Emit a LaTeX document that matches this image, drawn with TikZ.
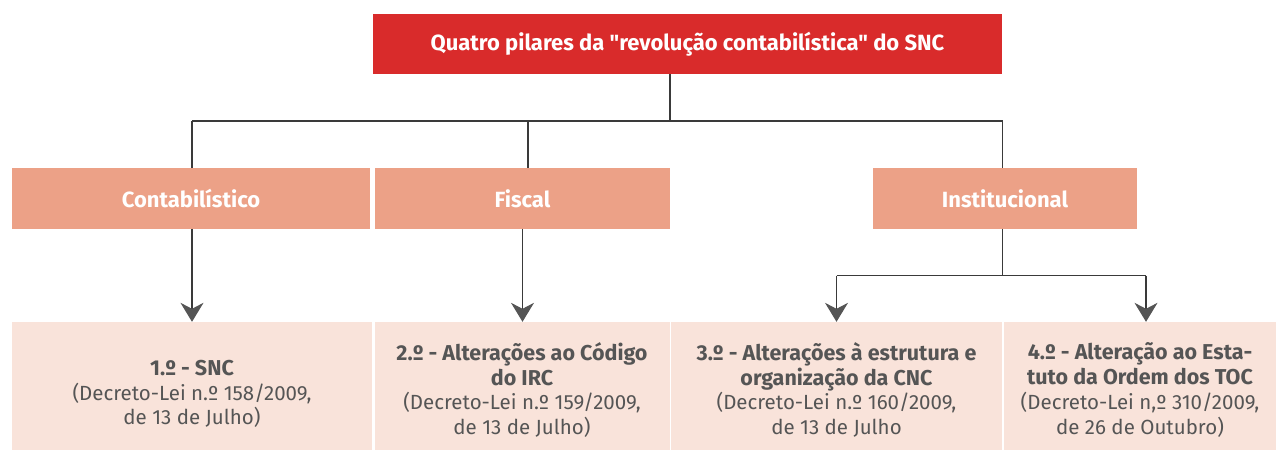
\documentclass[tikz,border=0pt]{standalone}
\usepackage{fontspec}
\setmainfont{Fira Sans}[Ligatures=TeXOff]
\usetikzlibrary{arrows.meta}
\definecolor{titlered}{HTML}{D92B2B}
\definecolor{salmon}{HTML}{ECA187}
\definecolor{pale}{HTML}{F9E3DA}
\definecolor{linegray}{HTML}{3A3A3A}
\definecolor{tipgray}{HTML}{555555}
\definecolor{txtgray}{HTML}{555555}
\tikzset{
  titlebox/.style={fill=titlered, text=white, inner sep=0pt, font=\fontsize{22}{26}\selectfont\bfseries},
  pillar/.style={fill=salmon, text=white, inner sep=0pt, minimum height=60.7pt, font=\fontsize{22}{26}\selectfont\bfseries},
  leaf/.style={fill=pale, inner sep=0pt, minimum height=128pt},
  leaftext/.style={text=txtgray, align=center, inner sep=0pt, font=\fontsize{20.5}{24.8}\selectfont},
  conn/.style={draw=linegray, line width=1.1pt},
  arr/.style={conn, -{Stealth[length=19pt,width=23pt,inset=6pt,color=tipgray]}},
}
\newcommand{\bl}[1]{{\fontsize{21.5}{24.8}\selectfont\bfseries #1}}
\begin{document}
\begin{tikzpicture}[x=1pt,y=-1pt]
\useasboundingbox (0,0) rectangle (1276,451);
% boxes
\node[titlebox, minimum width=629pt, minimum height=60pt] (title) at (687.5,44) {Quatro pilares da "revolução contabilística" do SNC};
\node[pillar, minimum width=358pt] (cont) at (191,198.3) {Contabilístico};
\node[pillar, minimum width=295pt] (fisc) at (522.5,198.3) {Fiscal};
\node[pillar, minimum width=264pt] (inst) at (1005,198.3) {Institucional};
\node[leaf, minimum width=360pt] (l1) at (192,386) {};
\node[leaf, minimum width=295pt] (l2) at (522,386) {};
\node[leaf, minimum width=331pt] (l3) at (836.5,386) {};
\node[leaf, minimum width=272pt] (l4) at (1140,386) {};
\node[leaftext] (t1) at (192,394) {\bl{1.º - SNC}\\(Decreto-Lei n.º 158/2009,\\de 13 de Julho)};
\node[leaftext] (t2) at (522,390) {\bl{2.º - Alterações ao Código}\\\bl{do IRC}\\(Decreto-Lei n.º 159/2009,\\de 13 de Julho)};
\node[leaftext] (t3) at (836.5,390) {\bl{3.º - Alterações à estrutura e}\\\bl{organização da CNC}\\(Decreto-Lei n.º 160/2009,\\de 13 de Julho};
\node[leaftext] (t4) at (1140,390) {\bl{4.º - Alteração ao Esta-}\\\bl{tuto da Ordem dos TOC}\\(Decreto-Lei n,º 310/2009,\\de 26 de Outubro)};
% junctions
\coordinate (jt) at (670,121);
\coordinate (jl) at (192,121);
\coordinate (jf) at (528,121);
\coordinate (jr) at (1002.5,121);
\coordinate (ji) at (1002.5,275.7);
\coordinate (ja) at (836.5,275.7);
\coordinate (jb) at (1146,275.7);
% connectors
\draw[conn] (title.south -| jt) -- (jt);
\draw[conn] (jl) -- (jr);
\draw[conn] (jl) -- (jl |- cont.north);
\draw[conn] (jf) -- (jf |- fisc.north);
\draw[conn] (jr) -- (jr |- inst.north);
\draw[arr] (cont.south -| jl) -- (l1.north);
\draw[arr] (fisc.south) -- (l2.north -| fisc.south);
\draw[conn] (inst.south -| ji) -- (ji);
\draw[conn] (ja) -- (jb);
\draw[arr] (ja) -- (l3.north -| ja);
\draw[arr] (jb) -- (l4.north -| jb);
\end{tikzpicture}
\end{document}
